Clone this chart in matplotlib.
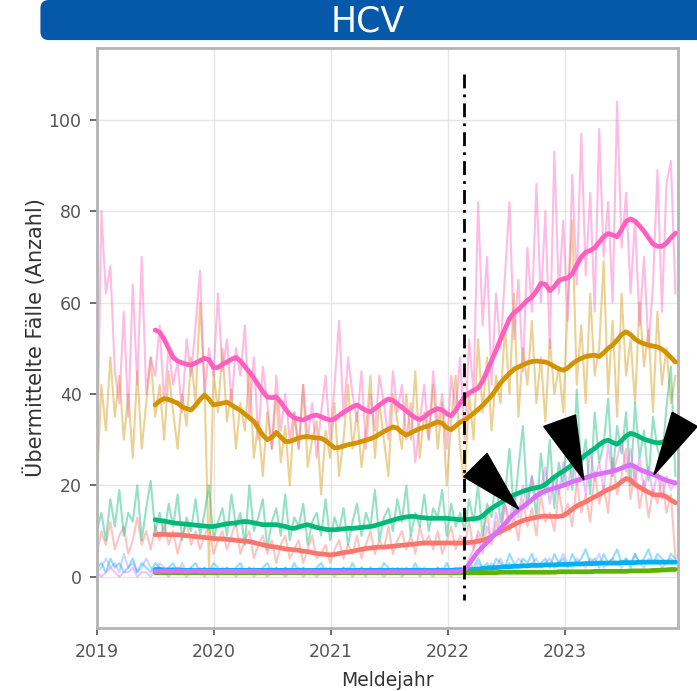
import numpy as np
import pandas as pd
import matplotlib
matplotlib.use("Agg")
import matplotlib.pyplot as plt
import matplotlib.dates as mdates
from matplotlib.patches import Polygon, FancyBboxPatch

# Wochenwerte (14-Tage-Raster ab 2019-01-01)
dates = pd.date_range("2019-01-01", periods=130, freq="14D")
ma_dates = dates[13:]

# duenne Linien (Einzelwerte)
pink_raw = [22, 80, 62, 68, 45, 38, 58, 35, 64, 42, 70, 40, 48, 44, 55, 38, 50, 42, 47, 36,
            52, 44, 55, 67, 40, 50, 44, 62, 45, 52, 38, 50, 44, 55, 35, 48, 30, 46, 38, 28,
            44, 32, 40, 30, 36, 28, 42, 30, 38, 26, 36, 44, 30, 42, 56, 35, 48, 40, 34, 45,
            28, 40, 32, 44, 38, 30, 45, 36, 42, 30, 38, 25, 34, 42, 30, 45, 33, 40, 28, 44,
            36, 48, 30, 52, 40, 82, 55, 70, 42, 62, 50, 66, 82, 52, 65, 45, 72, 58, 86, 60,
            80, 50, 93, 62, 78, 56, 88, 64, 97, 66, 84, 58, 98, 70, 82, 60, 104, 72, 84, 62,
            78, 55, 70, 50, 64, 89, 58, 86, 91, 62]
gold_raw = [20, 42, 32, 48, 35, 44, 30, 40, 26, 45, 28, 38, 48, 35, 42, 30, 45, 36, 28, 40,
            33, 48, 38, 60, 42, 2, 45, 36, 50, 34, 41, 28, 38, 32, 45, 26, 34, 22, 36, 28,
            40, 25, 33, 20, 36, 28, 42, 24, 30, 34, 18, 32, 26, 38, 22, 30, 42, 28, 36, 24,
            32, 44, 26, 38, 30, 22, 40, 34, 28, 40, 30, 45, 26, 36, 30, 42, 28, 38, 20, 34,
            44, 28, 20, 40, 30, 52, 36, 48, 32, 44, 38, 55, 40, 62, 35, 50, 42, 56, 38, 48,
            34, 52, 40, 46, 36, 60, 78, 42, 55, 38, 62, 44, 50, 69, 40, 56, 35, 62, 44, 52,
            38, 60, 46, 54, 36, 58, 42, 50, 38, 44]
green_raw = [10, 14, 8, 17, 11, 19, 9, 14, 12, 20, 8, 15, 21, 10, 14, 9, 16, 11, 18, 8,
             13, 10, 17, 9, 14, 20, 8, 12, 15, 9, 18, 11, 14, 7, 20, 10, 13, 17, 6, 12,
             15, 9, 18, 8, 13, 11, 16, 7, 12, 14, 9, 17, 8, 13, 10, 15, 7, 12, 16, 9,
             14, 11, 19, 8, 13, 15, 10, 17, 12, 20, 9, 14, 11, 18, 10, 15, 13, 19, 9, 16,
             11, 14, 10, 17, 12, 20, 9, 16, 13, 22, 12, 18, 28, 14, 24, 33, 16, 22, 13, 27,
             18, 30, 15, 25, 20, 34, 19, 41, 24, 30, 18, 36, 25, 29, 39, 22, 33, 27, 36, 20,
             38, 26, 32, 21, 35, 28, 25, 37, 46, 22]
salmon_raw = [5, 10, 7, 12, 6, 9, 11, 5, 8, 13, 7, 10, 6, 11, 8, 12, 7, 10, 5, 9,
              12, 7, 10, 6, 9, 11, 5, 8, 10, 6, 9, 12, 5, 8, 10, 4, 7, 9, 5, 8,
              3, 7, 9, 4, 6, 8, 3, 6, 9, 4, 5, 7, 3, 6, 8, 4, 7, 5, 9, 4,
              7, 10, 5, 8, 6, 11, 5, 8, 10, 6, 9, 5, 11, 7, 9, 6, 10, 5, 8, 11,
              6, 9, 7, 12, 6, 10, 8, 14, 7, 12, 9, 16, 10, 13, 8, 17, 11, 15, 9, 18,
              12, 14, 10, 19, 13, 16, 11, 21, 14, 18, 12, 23, 16, 20, 14, 26, 18, 22, 28, 17,
              24, 15, 21, 13, 19, 16, 22, 14, 18, 4]
violet_raw = [1, 0, 1, 2, 1, 0, 1, 1, 2, 0, 1, 1, 0, 2, 1, 1, 0, 1, 2, 1,
              0, 1, 1, 2, 0, 1, 1, 0, 2, 1, 1, 0, 1, 1, 2, 0, 1, 1, 0, 1,
              2, 1, 0, 1, 1, 2, 0, 1, 1, 0, 1, 2, 1, 0, 1, 1, 2, 0, 1, 1,
              0, 2, 1, 1, 0, 1, 2, 1, 0, 1, 1, 2, 0, 1, 1, 0, 2, 1, 1, 0,
              1, 2, 1, 4, 6, 9, 5, 11, 8, 14, 10, 16, 12, 18, 13, 20, 15, 22, 17, 19,
              24, 16, 22, 18, 25, 19, 27, 20, 24, 18, 28, 21, 25, 19, 29, 22, 26, 30, 23, 28,
              21, 26, 19, 24, 18, 23, 17, 22, 19, 21]
blue_raw = [2, 3, 1, 4, 2, 3, 1, 2, 4, 1, 3, 2, 1, 3, 2, 1, 2, 3, 1, 2,
            1, 2, 3, 1, 2, 1, 3, 2, 1, 2, 1, 2, 3, 1, 2, 1, 1, 2, 3, 1,
            2, 1, 2, 1, 3, 1, 2, 1, 1, 2, 3, 1, 2, 1, 1, 2, 1, 3, 1, 2,
            1, 2, 1, 1, 3, 2, 1, 2, 1, 2, 1, 3, 1, 2, 1, 1, 2, 1, 3, 1,
            2, 1, 2, 3, 2, 4, 2, 3, 1, 4, 3, 2, 5, 3, 2, 4, 3, 5, 2, 3,
            4, 2, 5, 3, 4, 2, 5, 3, 4, 6, 3, 4, 2, 5, 3, 4, 6, 3, 4, 2,
            5, 3, 4, 6, 3, 5, 4, 3, 5, 4]
lav_raw = [1, 2, 4, 2, 3, 1, 5, 2, 3, 1, 2, 4, 2, 1, 3, 2, 1, 2, 1, 3,
           1, 2, 1, 1, 2, 1, 2, 1, 1, 2, 1, 1, 2, 1, 1, 2, 1, 1, 1, 2,
           1, 1, 2, 1, 1, 1, 2, 1, 1, 1, 2, 1, 1, 1, 1, 2, 1, 1, 1, 2,
           1, 1, 1, 2, 1, 1, 1, 1, 2, 1, 1, 1, 2, 1, 1, 1, 1, 2, 1, 1,
           1, 2, 1, 2, 1, 3, 2, 1, 3, 2, 4, 2, 3, 2, 4, 3, 2, 3, 4, 2,
           3, 4, 2, 3, 5, 3, 2, 4, 3, 2, 4, 3, 5, 2, 3, 4, 3, 2, 4, 3,
           5, 3, 2, 4, 3, 4, 2, 3, 4, 3]

# dicke Linien (gleitender Mittelwert, ab Mitte 2019)
pink_ma = [54, 53.5, 52, 50, 48, 47.2, 46.8, 46.5, 46.3, 46.8, 47.3, 47.8, 47.5, 45.8, 45.8,
           46.5, 47, 47.6, 48, 47.2, 46, 44.8, 43.5, 42, 40.5, 39.3, 39.2, 39.3, 38.2, 36.8,
           35.5, 34.8, 34.5, 34.3, 34.8, 35.2, 35.4, 35, 34.6, 34.3, 34.5, 35.3, 36, 36.6, 37.2,
           37.6, 37, 36.4, 36.1, 36.8, 37.6, 38.3, 38.9, 38.6, 37.8, 37.1, 36.3, 35.5, 34.8, 34.4,
           35, 35.8, 36.4, 36.8, 36.5, 35.7, 35.2, 36.4, 38, 39.4, 40.2, 40.8, 41.3, 42.8, 45,
           47.3, 49.5, 52, 54.2, 56.5, 57.8, 58.5, 59.5, 60.5, 61.2, 62.5, 64.2, 64, 62.6, 63.5,
           64.8, 65.2, 65.4, 66.3, 68.2, 70, 71, 71.4, 72, 73.2, 74.4, 75.1, 74.8, 74.4, 76,
           77.8, 78.3, 77.8, 76.8, 75.6, 74.2, 72.8, 72.3, 72.3, 73, 74.2, 75.2]
gold_ma = [37.6, 38.5, 39, 38.8, 38.4, 38, 37.2, 36.8, 36.5, 37.5, 38.8, 39.8, 38.8, 37.6, 37.8,
           38, 38.2, 37.6, 37, 36.4, 35.6, 34.8, 34, 32.5, 31, 30, 30.5, 31.6, 30.6, 29.6,
           29.6, 30, 30.4, 30.6, 30.7, 30.5, 30.4, 30.3, 29.8, 29, 28.2, 28.3, 28.6, 28.9, 29.1,
           29.3, 29.6, 29.9, 30.2, 30.6, 31.2, 31.8, 32.3, 32.8, 32.5, 31.6, 31, 31.5, 32, 32.4,
           32.8, 33, 33.5, 33.9, 33.6, 32.6, 32.2, 33, 33.8, 34.3, 35, 35.8, 36.6, 37.5, 38.6,
           39.6, 41, 42.4, 43.5, 44.5, 45.4, 45.9, 46.4, 46.8, 47.1, 47.2, 47.1, 47, 46.6, 46,
           45.5, 45.2, 45.7, 46.6, 47.3, 47.8, 48.2, 48.4, 48.5, 48.2, 49, 50, 50.7, 51.8, 53,
           53.6, 53, 52, 51.4, 51, 50.7, 50.5, 50.3, 49.8, 49, 48, 47]
green_ma = [12.5, 12.3, 12.2, 12, 11.8, 11.7, 11.6, 11.5, 11.4, 11.3, 11.2, 11.1, 11, 11, 11.2,
            11.4, 11.6, 11.7, 11.8, 12, 12.1, 12, 11.8, 11.6, 11.4, 11.4, 11.4, 11.4, 11.2, 11,
            10.7, 10.6, 10.9, 11.2, 11.4, 11.1, 10.8, 10.6, 10.4, 10.3, 10.3, 10.4, 10.5, 10.6, 10.6,
            10.7, 10.8, 10.9, 11, 11.2, 11.5, 11.8, 12.1, 12.4, 12.7, 12.9, 13.1, 13.2, 13.2, 13,
            12.9, 12.8, 12.8, 12.8, 12.8, 12.8, 12.7, 12.6, 12.5, 12.5, 12.6, 12.7, 12.8, 13.3, 14.2,
            15, 15.6, 16.2, 16.8, 17.4, 17.9, 18.3, 18.7, 19, 19.3, 19.5, 19.7, 20.2, 21, 21.8,
            22.5, 23.1, 23.8, 24.5, 25, 25.8, 26.7, 27.4, 28.1, 28.9, 29.6, 29.9, 29.4, 29, 29.8,
            30.8, 31.4, 31.1, 30.6, 30.1, 29.8, 29.5, 29.3, 29.4, 29.8, 30.3, 30.6]
salmon_ma = [9.2, 9.3, 9.3, 9.2, 9.2, 9.2, 9.1, 9, 8.9, 8.8, 8.7, 8.6, 8.5, 8.4, 8.3,
             8.3, 8.2, 8.1, 8, 7.9, 7.8, 7.7, 7.5, 7.2, 7, 6.8, 6.6, 6.5, 6.3, 6.1,
             6, 5.9, 5.8, 5.6, 5.5, 5.3, 5.1, 5, 4.9, 4.8, 4.9, 5.1, 5.3, 5.4, 5.6,
             5.8, 6, 6.2, 6.3, 6.4, 6.5, 6.5, 6.6, 6.7, 6.8, 6.9, 7, 7.1, 7.2, 7.3,
             7.4, 7.4, 7.4, 7.4, 7.4, 7.4, 7.4, 7.4, 7.4, 7.4, 7.5, 7.6, 7.8, 8, 8.3,
             8.8, 9.4, 9.9, 10.4, 10.9, 11.4, 11.9, 12.3, 12.6, 12.8, 13, 13.2, 13.3, 13.2, 13.2,
             13.2, 13.4, 14, 14.8, 15.5, 16, 16.4, 17, 17.5, 18, 18.6, 19.1, 19.5, 20, 20.8,
             21.5, 21.2, 20.2, 19.6, 19, 18.5, 18, 17.9, 17.9, 17.5, 16.8, 16.2]
violet_ma = [1.2, 1.2, 1.3, 1.2, 1.2, 1.3, 1.2, 1.2, 1.2, 1.3, 1.2, 1.2, 1.2, 1.2, 1.2,
             1.2, 1.2, 1.2, 1.2, 1.2, 1.2, 1.2, 1.2, 1.2, 1.1, 1.1, 1.1, 1.1, 1.1, 1.1,
             1.1, 1.1, 1.1, 1.1, 1.1, 1.1, 1.1, 1.1, 1.1, 1.1, 1.1, 1.1, 1.1, 1.1, 1.1,
             1.1, 1.1, 1.1, 1.1, 1.1, 1.1, 1.1, 1.1, 1.1, 1.1, 1.1, 1.1, 1.1, 1.1, 1.1,
             1.1, 1.1, 1.1, 1.1, 1.1, 1.1, 1.1, 1.2, 1.2, 1.5, 2.8, 4.2, 5.5, 6.6, 7.5,
             8.6, 9.6, 10.5, 11.6, 12.8, 13.8, 14.7, 15.3, 16.1, 16.9, 17.7, 18.3, 18.8, 19.1, 19.4,
             19.7, 20, 20.4, 20.8, 21.1, 21.4, 21.7, 22, 22.3, 22.5, 22.7, 22.9, 23.1, 23.4, 23.8,
             24.2, 24.5, 24.1, 23.5, 23.1, 22.7, 22.4, 22, 21.5, 21.1, 20.8, 20.5]
blue_ma = [1.6, 1.6, 1.5, 1.5, 1.5, 1.5, 1.4, 1.4, 1.4, 1.4, 1.4, 1.4, 1.4, 1.4, 1.4,
           1.4, 1.4, 1.4, 1.4, 1.4, 1.4, 1.4, 1.4, 1.4, 1.4, 1.4, 1.4, 1.4, 1.4, 1.4,
           1.4, 1.4, 1.4, 1.4, 1.4, 1.4, 1.4, 1.4, 1.4, 1.4, 1.4, 1.4, 1.4, 1.4, 1.4,
           1.4, 1.4, 1.4, 1.4, 1.4, 1.4, 1.4, 1.4, 1.4, 1.4, 1.4, 1.4, 1.4, 1.4, 1.4,
           1.4, 1.4, 1.4, 1.4, 1.4, 1.4, 1.4, 1.5, 1.5, 1.5, 1.6, 1.6, 1.7, 1.8, 1.9,
           2, 2, 2.1, 2.2, 2.2, 2.3, 2.3, 2.4, 2.4, 2.5, 2.5, 2.5, 2.6, 2.6, 2.6,
           2.7, 2.7, 2.7, 2.8, 2.8, 2.8, 2.9, 2.9, 2.9, 3, 3, 3, 3, 3, 3.1,
           3.1, 3.1, 3.1, 3.2, 3.2, 3.2, 3.2, 3.2, 3.2, 3.2, 3.2, 3.2]
olive_ma = [0.9, 0.9, 0.9, 0.9, 0.9, 0.9, 0.9, 0.9, 0.9, 0.9, 0.9, 0.9, 0.9, 0.9, 0.9,
            0.9, 0.9, 0.9, 0.9, 0.9, 0.9, 0.9, 0.9, 0.9, 0.9, 0.9, 0.9, 0.9, 0.9, 0.9,
            0.9, 0.9, 0.9, 0.9, 0.9, 0.9, 0.9, 0.9, 0.9, 0.9, 0.9, 0.9, 0.9, 0.9, 0.9,
            0.9, 0.9, 0.9, 0.9, 0.9, 0.9, 0.9, 0.9, 0.9, 0.9, 0.9, 0.9, 0.9, 0.9, 0.9,
            0.9, 0.9, 0.9, 0.9, 0.9, 0.9, 0.9, 0.9, 0.9, 0.9, 0.9, 0.9, 0.9, 0.9, 0.9,
            0.9, 0.9, 1, 1, 1, 1, 1, 1, 1, 1, 1, 1, 1, 1, 1,
            1.1, 1.1, 1.1, 1.1, 1.1, 1.1, 1.1, 1.1, 1.2, 1.2, 1.2, 1.2, 1.2, 1.2, 1.2,
            1.2, 1.3, 1.3, 1.3, 1.3, 1.3, 1.4, 1.4, 1.5, 1.5, 1.6, 1.6]

# (Farbe, Einzelwerte, Mittelwert)
series = [
    ("#8F9BFF", lav_raw, None),
    ("#00B0F6", blue_raw, blue_ma),
    ("#5DB300", None, olive_ma),
    ("#F8766D", salmon_raw, salmon_ma),
    ("#D39200", gold_raw, gold_ma),
    ("#00B877", green_raw, green_ma),
    ("#DB6FF5", violet_raw, violet_ma),
    ("#FF5FBE", pink_raw, pink_ma),
]

cutoff = pd.Timestamp("2022-02-21")
# Pfeilspitzen (Datum, Wert) als Markierung
arrows = [
    [("2022-02-19", 21.9), ("2022-05-03", 27.0), ("2022-08-10", 14.8)],
    [("2022-10-27", 32.9), ("2023-02-03", 35.4), ("2023-03-01", 21.2)],
    [("2023-10-06", 22.3), ("2023-12-02", 36.0), ("2024-02-18", 32.9)],
]

fig = plt.figure(figsize=(6.97, 6.91), dpi=100)
ax = fig.add_axes([0.139, 0.0912, 0.8337, 0.8393])

for color, raw, ma in series:
    if raw is not None:
        ax.plot(dates, raw, color=color, alpha=0.42, lw=1.5, zorder=2)
for color, raw, ma in series:
    if ma is not None:
        ax.plot(ma_dates, ma, color=color, lw=3.4, solid_capstyle="round", zorder=3)

ax.plot([cutoff, cutoff], [110, -5], color="black", lw=2.0,
        linestyle=(0, (5, 2.2, 1, 2.2)), zorder=5)

for tri in arrows:
    pts = [(mdates.date2num(pd.Timestamp(d)), v) for d, v in tri]
    ax.add_patch(Polygon(pts, closed=True, facecolor="black", edgecolor="black",
                         zorder=6, clip_on=False))

ax.set_xlim(pd.Timestamp("2019-01-01"), pd.Timestamp("2023-12-20"))
ax.set_ylim(-11.2, 115.7)
ax.set_yticks([0, 20, 40, 60, 80, 100])
ax.xaxis.set_major_locator(mdates.YearLocator())
ax.xaxis.set_major_formatter(mdates.DateFormatter("%Y"))
ax.grid(True, color="#E6E6E6", lw=1.0, zorder=0)
ax.set_axisbelow(True)
for sp in ax.spines.values():
    sp.set_color("#B4B4B4")
    sp.set_linewidth(2.0)
ax.tick_params(colors="#555555", labelsize=12.5, length=5, width=1.2, pad=6)
for lab in ax.get_xticklabels() + ax.get_yticklabels():
    lab.set_color("#555555")

ax.set_xlabel("Meldejahr", fontsize=13.5, color="#333333", labelpad=7)
ax.set_ylabel("Übermittelte Fälle (Anzahl)", fontsize=15, color="#333333", labelpad=2)

# Titelbalken
banner = FancyBboxPatch((0.058, 0.942), 1.0, 0.058, boxstyle="round,pad=0,rounding_size=0.012",
                        transform=fig.transFigure, facecolor="#0559A8", edgecolor="none",
                        clip_on=False)
fig.patches.append(banner)
fig.text(0.528, 0.969, "HCV", color="white", fontsize=25, ha="center", va="center",
         family=["Liberation Sans Narrow", "DejaVu Sans"])

fig.savefig("out.png", dpi=100)
